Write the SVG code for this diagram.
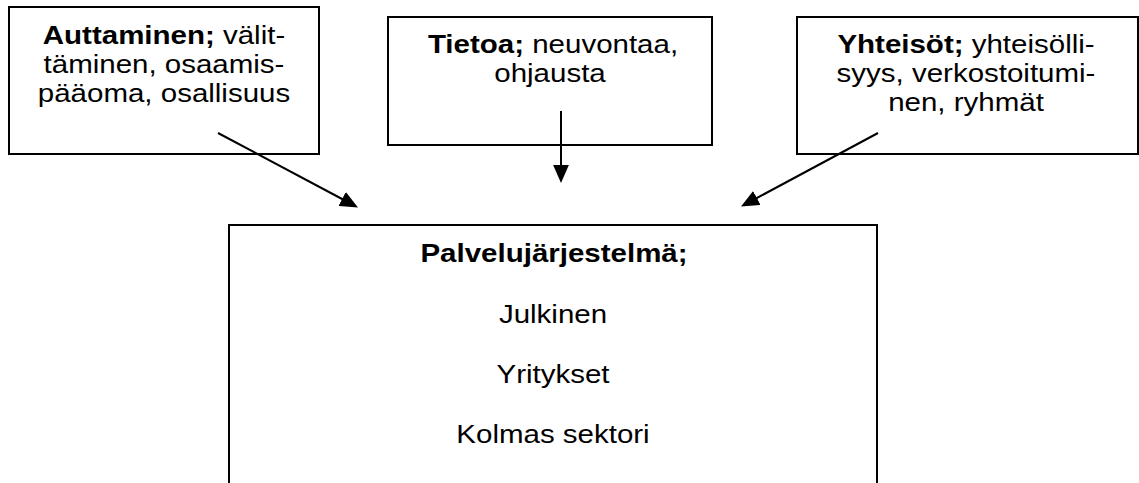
<svg xmlns="http://www.w3.org/2000/svg" width="1139" height="483" viewBox="0 0 1139 483">
<style>
.box{fill:#fff;stroke:#000;stroke-width:2}
.t{font-family:"Liberation Sans",Arial,sans-serif;font-size:25px;fill:#000;text-anchor:middle}
.b{font-weight:bold}
.c{stroke:#000;stroke-width:2;fill:none;marker-end:url(#ah)}
</style>
<defs>
<marker id="ah" markerUnits="userSpaceOnUse" markerWidth="18" markerHeight="16" viewBox="0 0 17 15" refX="2" refY="7.5" orient="auto">
<path d="M0,0 L17,7.5 L0,15 z" fill="#000"/>
</marker>
</defs>
<rect width="1139" height="483" fill="#fff"/>
<g id="n1">
<rect class="box" x="9" y="7" width="310" height="147"/>
<text class="t" transform="translate(164,44) scale(1.18,1)"><tspan class="b">Auttaminen;</tspan> välit-</text>
<text class="t" transform="translate(164,73) scale(1.18,1)">täminen, osaamis-</text>
<text class="t" transform="translate(164,102) scale(1.18,1)">pääoma, osallisuus</text>
</g>
<g id="n2">
<rect class="box" x="388" y="17" width="324" height="128"/>
<text class="t" transform="translate(553,53) scale(1.18,1)"><tspan class="b">Tietoa;</tspan> neuvontaa,</text>
<text class="t" transform="translate(550,82) scale(1.18,1)">ohjausta</text>
</g>
<g id="n3">
<rect class="box" x="797" y="17" width="341" height="137"/>
<text class="t" transform="translate(966,53) scale(1.18,1)"><tspan class="b">Yhteisöt;</tspan> yhteisölli-</text>
<text class="t" transform="translate(966,82) scale(1.18,1)">syys, verkostoitumi-</text>
<text class="t" transform="translate(966,111) scale(1.18,1)">nen, ryhmät</text>
</g>
<g id="n4">
<rect class="box" x="229" y="225" width="648" height="280"/>
<text class="t b" transform="translate(554,262) scale(1.18,1)">Palvelujärjestelmä;</text>
<text class="t" transform="translate(553,323) scale(1.18,1)">Julkinen</text>
<text class="t" transform="translate(553,383) scale(1.18,1)">Yritykset</text>
<text class="t" transform="translate(553,443) scale(1.18,1)">Kolmas sektori</text>
</g>
<g id="connectors">
<path class="c" d="M218,133 L344,200"/>
<path class="c" d="M561,111 L561,167"/>
<path class="c" d="M878,133 L755,199"/>
</g>
</svg>
